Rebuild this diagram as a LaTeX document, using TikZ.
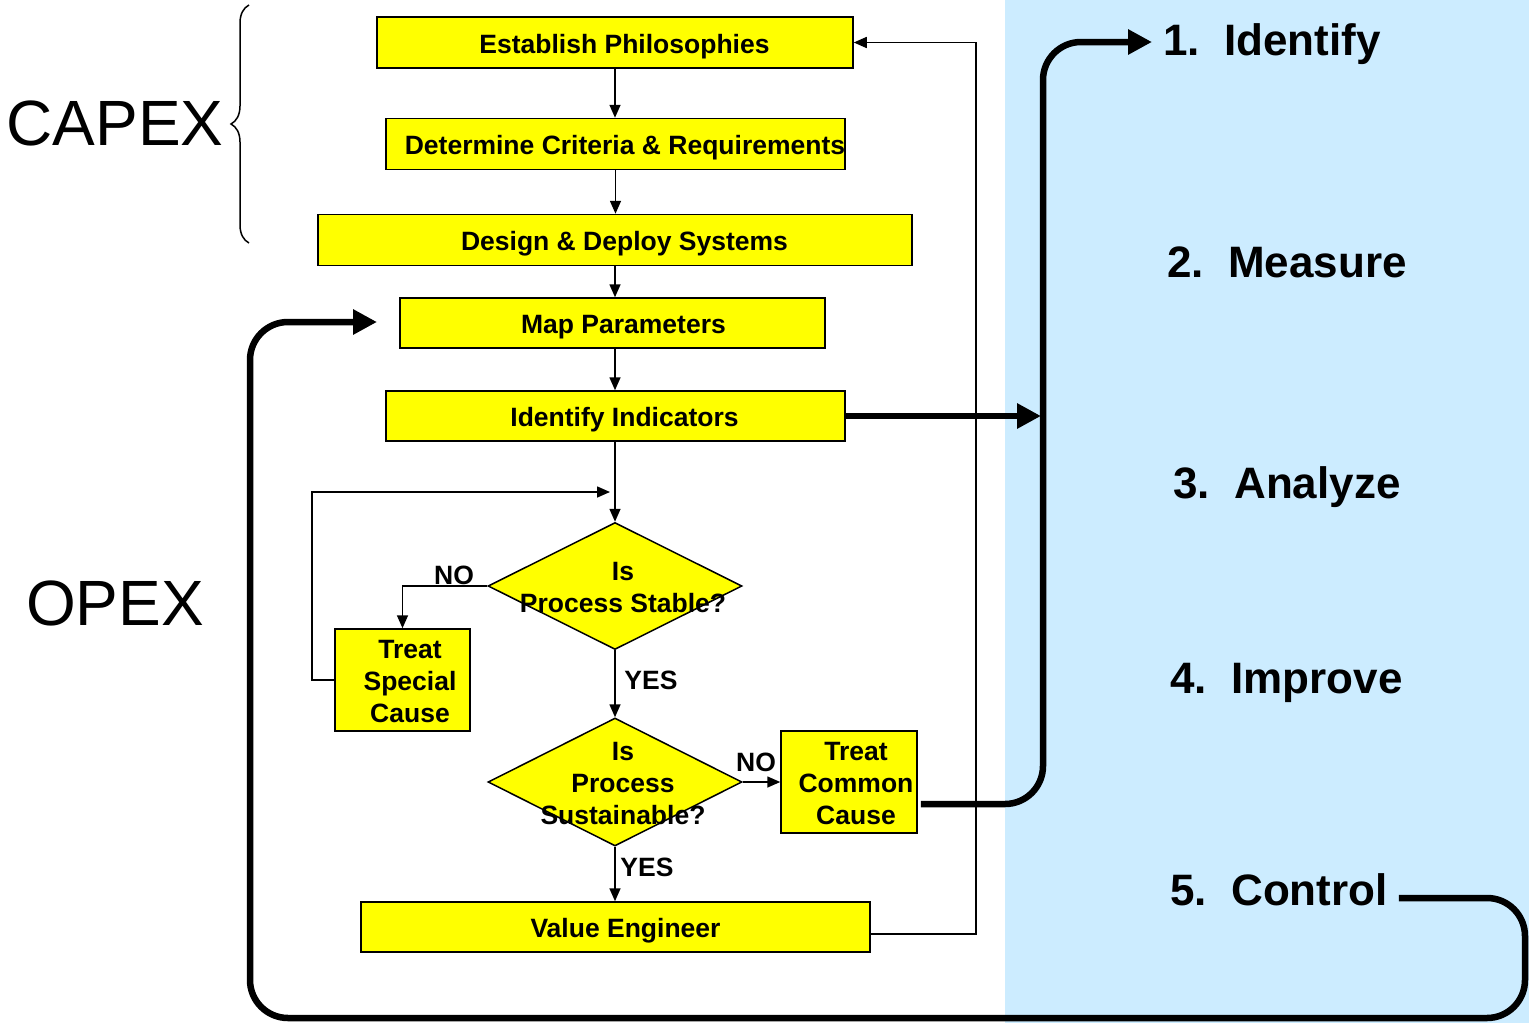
\documentclass[tikz,border=0pt]{standalone}
\usepackage{fontspec}
\setmainfont{Liberation Sans}
\usetikzlibrary{
  arrows.meta,               % Triangle tips
  calc,                      % offsets from anchors
  decorations.pathreplacing, % CAPEX brace
  shapes.geometric,          % decision diamonds
  positioning
}
\definecolor{panelblue}{RGB}{204,236,255}
\definecolor{boxyellow}{RGB}{255,255,0}

\tikzset{
  box/.style={draw=black, fill=boxyellow, line width=1.5pt, inner sep=0pt},
  decision/.style={diamond, draw=black, fill=boxyellow, line width=1.5pt, inner sep=0pt},
  lbl/.style={font=\bfseries\fontsize{26.5}{32}\selectfont, inner sep=0pt, align=center},
  boxtext/.style={lbl, anchor=base},
  stage/.style={font=\bfseries\fontsize{44}{50}\selectfont, anchor=base west, inner sep=0pt},
  phase/.style={font=\fontsize{64}{70}\selectfont, inner sep=0pt},
  flow/.style={line width=1.6pt, -{Triangle[length=13pt,width=11pt]}},
  bigflow/.style={line width=6.5pt, rounded corners=38pt, -{Triangle[length=24pt,width=24pt]}}
}

\begin{document}
\begin{tikzpicture}[x=1pt, y=-1pt]
  \useasboundingbox (0,0) rectangle (1529,1023);

  % =============== DMAIC panel ===============
  \fill[panelblue] (1005,0) rectangle (1529,1023);

  \node[stage] (idf) at (1163,55)  {1.\ \ Identify};
  \node[stage] (msr) at (1167,277) {2.\ \ Measure};
  \node[stage] (anl) at (1173,498) {3.\ \ Analyze};
  \node[stage] (imp) at (1170,693) {4.\ \ Improve};
  \node[stage] (ctl) at (1170,905) {5.\ \ Control};

  % =============== CAPEX / OPEX ===============
  \node[phase] (capex) at (115,123) {CAPEX};
  \node[phase] (opex)  at (115,603) {OPEX};
  \draw[line width=1.5pt, decorate, decoration={brace, amplitude=18pt}]
    (249,243) -- (249,5);

  % =============== flow chart boxes ===============
  % text sits a little right of each box centre, as in the original
  \node[box, minimum width=476pt, minimum height=51pt] (est) at (615,42.5) {};
  \node[boxtext] (esttxt) at ($(est)+(9.5,10.5)$) {Establish Philosophies};
  \node[box, minimum width=459pt, minimum height=51pt] (det) at (615.5,144) {};
  \node[boxtext] (dettxt) at ($(det)+(9.5,10)$) {Determine Criteria \& Requirements};
  \node[box, minimum width=594pt, minimum height=51pt] (des) at (615,240) {};
  \node[boxtext] (destxt) at ($(des)+(9.5,10)$) {Design \& Deploy Systems};
  \node[box, minimum width=425pt, minimum height=50pt] (map) at (612.5,323) {};
  \node[boxtext] (maptxt) at ($(map)+(11,10)$) {Map Parameters};
  \node[box, minimum width=459pt, minimum height=50pt] (ind) at (615.5,416) {};
  \node[boxtext] (indtxt) at ($(ind)+(9,10)$) {Identify Indicators};

  \node[decision, minimum width=254pt, minimum height=127pt] (stb) at (615,586) {};
  \node[lbl] (stbtxt) at (623,588) {Is\\Process Stable?};
  \node[box, minimum width=135pt, minimum height=102pt] (tsc) at (402.5,680) {};
  \node[lbl] (tsctxt) at (410,682) {Treat\\Special\\Cause};

  \node[decision, minimum width=254pt, minimum height=128pt] (sus) at (615,782) {};
  \node[lbl] (sustxt) at (623,784) {Is\\Process\\Sustainable?};
  \node[box, minimum width=136pt, minimum height=102pt] (tcc) at (849,782) {};
  \node[lbl] (tcctxt) at (856,784) {Treat\\Common\\Cause};

  \node[box, minimum width=509pt, minimum height=50pt] (ve) at (615.5,927) {};
  \node[boxtext] (vetxt) at ($(ve)+(10,10)$) {Value Engineer};

  % =============== thin connectors ===============
  \draw[flow] (est.south) -- (est.south |- det.north);
  \draw[flow] (det.south) -- (det.south |- des.north);
  \draw[flow] (des.south) -- (des.south |- map.north);
  \draw[flow] (map.south -| des.south) -- (des.south |- ind.north);
  \draw[flow] (ind.south -| stb.north) -- (stb.north);

  \draw[flow] (stb.west) -| (tsc.north);
  \node[lbl] (no1) at (454,575) {NO};
  \coordinate (join) at (610,492);
  \draw[flow] (tsc.west) -- ++(-22,0) |- (join);

  \draw[flow] (stb.south) -- (sus.north);
  \node[lbl] (yes1) at (651,680) {YES};
  \draw[flow] (sus.east) -- (sus.east -| tcc.west);
  \node[lbl] (no2) at (756,762) {NO};
  \draw[flow] (sus.south) -- (sus.south |- ve.north);
  \node[lbl] (yes2) at (647,867) {YES};

  \draw[flow] ($(ve.east)+(0,7)$) -| ($(est.east)+(122,0)$) -- (est.east);

  % =============== thick links to the DMAIC panel ===============
  \coordinate (indend) at (1041,416);
  \draw[bigflow] (ind.east) -- (indend);

  \coordinate (idfin) at (1152,42);
  \draw[bigflow] ($(tcc.east)+(3,22)$) -- (1043,804) -- (1043,42) -- (idfin);

  \coordinate (mapin) at (377,322);
  \draw[bigflow] ($(ctl.base east)+(11,-7)$) -- (1525,898) -- (1525,1018) -- (250,1018) -- (250,322) -- (mapin);
\end{tikzpicture}
\end{document}
